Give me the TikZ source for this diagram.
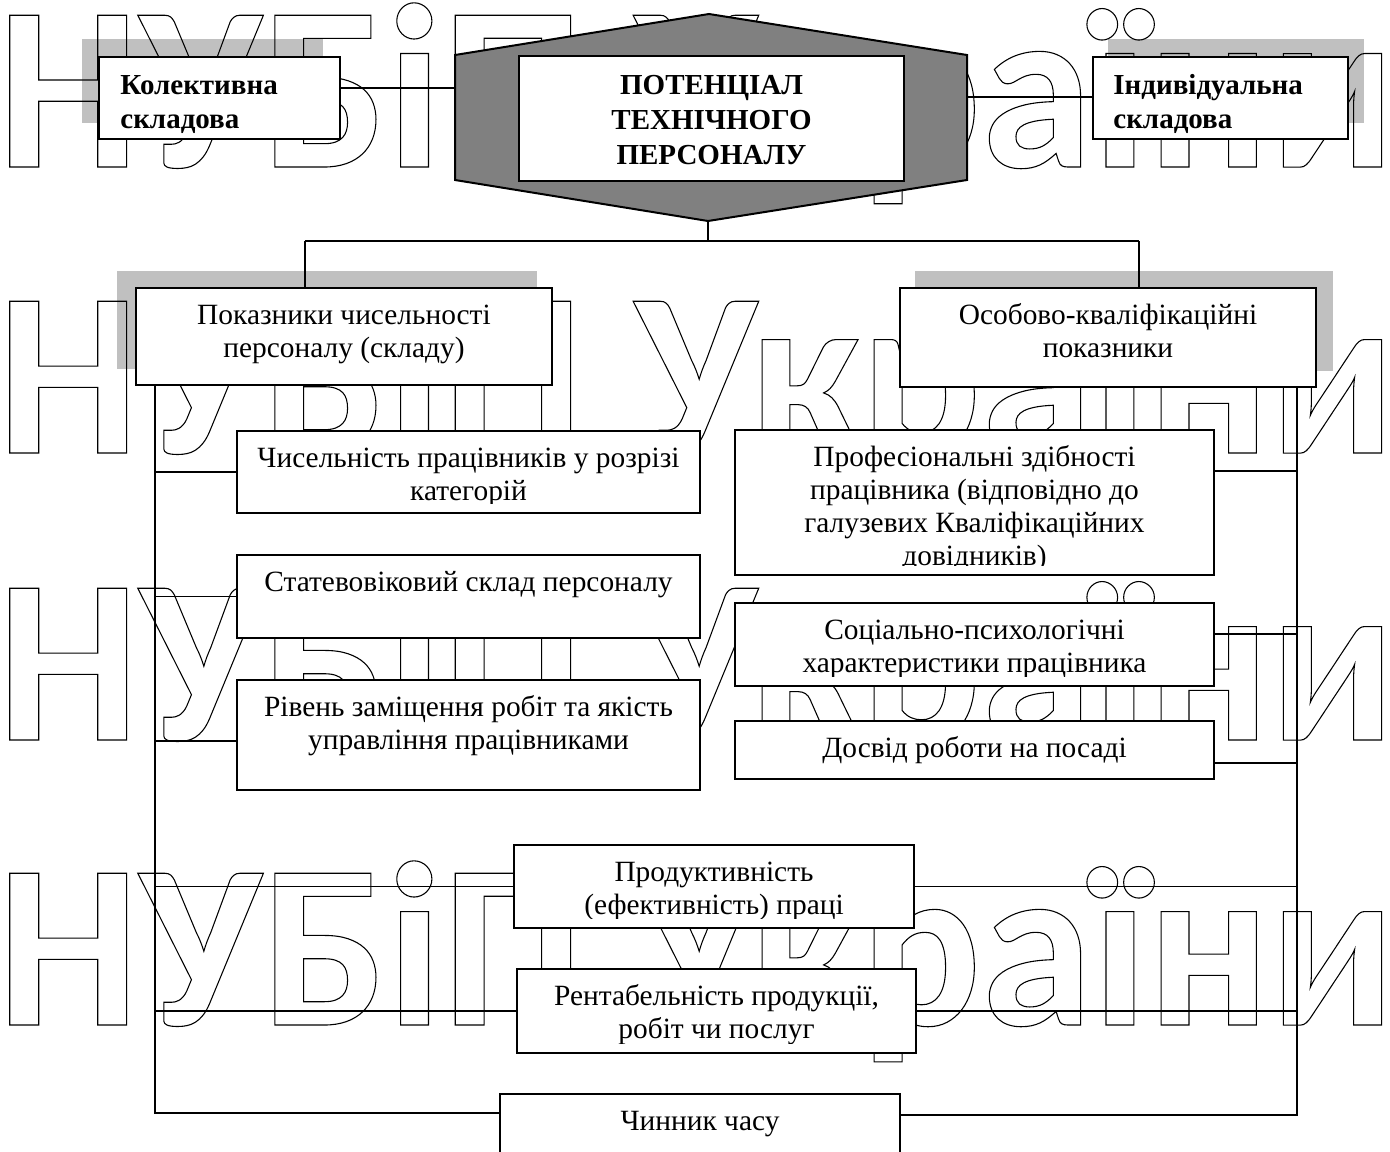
\documentclass[tikz,border=0pt]{standalone}
\usepackage{fontspec}
\setmainfont{Liberation Serif}
\newfontfamily\wmfont{Carlito}
\usetikzlibrary{positioning, calc}
\definecolor{shadowgray}{HTML}{C0C0C0}
\definecolor{hexgray}{HTML}{808080}
\newcommand\outlinetext[1]{\special{pdf:literal direct 1 Tr 0.55 w}#1\special{pdf:literal direct 0 Tr}}
\tikzset{
  box/.style={draw=black, line width=1pt, fill=white, inner sep=0pt, anchor=north west},
  shadowbox/.style={fill=shadowgray, draw=none, inner sep=0pt, anchor=north west},
  boxtext/.style={font=\fontsize{14.7}{16.5}\selectfont, align=center, inner sep=0pt, anchor=north},
  headtext/.style={font=\bfseries\fontsize{14.5}{17}\selectfont, align=left, inner sep=0pt, anchor=north west},
  titletext/.style={font=\bfseries\fontsize{14.5}{17.5}\selectfont, align=center, inner sep=0pt, anchor=north},
  link/.style={line width=0.8pt},
  wmark/.style={font=\wmfont\bfseries\fontsize{117}{117}\selectfont, inner sep=0pt, anchor=base west,
                xscale=0.96, transform shape},
}

\begin{document}
\begin{tikzpicture}[x=0.5pt, y=-0.5pt]
  \useasboundingbox (0,0) rectangle (1390,1151);
  \clip (0,0) rectangle (1390,1151);
  \fill[white] (0,0) rectangle (1390,1151);

  % shadows
  \node[shadowbox, minimum width=120.5pt, minimum height=42pt] (kolektS) at (82,39) {};
  \node[shadowbox, minimum width=128pt, minimum height=42pt] (indyvS) at (1108,39) {};
  \node[shadowbox, minimum width=210pt, minimum height=49pt] (pokazS) at (117,271) {};
  \node[shadowbox, minimum width=209pt, minimum height=50pt] (osobS) at (915,271) {};

  % watermark
  \foreach \by/\nm in {167/wmA, 453/wmB, 740/wmC, 1025/wmD}
    \node[wmark] (\nm) at (-3,\by) {\outlinetext{НУБіП України}};

  % connectors
  \coordinate (hexL) at (455,88);
  \coordinate (hexR) at (967,97);
  \coordinate (hexB) at (708,221);
  \coordinate (hub) at (708,241);
  \coordinate (hubL) at (305,241);
  \coordinate (hubR) at (1139,241);
  \coordinate (spL) at (155,1113);
  \coordinate (spR) at (1297,1115);

  % boxes
  \node[box, minimum width=120.5pt, minimum height=41pt] (kolekt) at (98,56) {};
  \node[box, minimum width=127.5pt, minimum height=41pt] (indyv) at (1092,56) {};
  \node[box, minimum width=208pt, minimum height=48.5pt] (pokaz) at (135,287) {};
  \node[box, minimum width=208pt, minimum height=49.5pt] (osob) at (899,287) {};
  \node[box, minimum width=231.5pt, minimum height=41pt] (chysel) at (236,430) {};
  \node[box, minimum width=231.5pt, minimum height=41.5pt] (stat) at (236,554) {};
  \node[box, minimum width=231.5pt, minimum height=55pt] (riven) at (236,679) {};
  \node[box, minimum width=239.5pt, minimum height=72.5pt] (prof) at (734,429) {};
  \node[box, minimum width=239.5pt, minimum height=41.5pt] (sots) at (734,602) {};
  \node[box, minimum width=239.5pt, minimum height=29pt] (dosvid) at (734,720) {};
  \node[box, minimum width=200pt, minimum height=41.5pt] (prod) at (513,844) {};
  \node[box, minimum width=199.5pt, minimum height=42pt] (rent) at (516,968) {};
  \node[box, minimum width=200pt, minimum height=42pt] (chas) at (499,1093) {};

  \draw[link] (kolekt.east |- hexL) -- (hexL);
  \draw[link] (hexR) -- (hexR -| indyv.west);
  \draw[link] (hexB) -- (hub);
  \draw[link] (hubL) -- (hubR);
  \draw[link] (hubL) -- (hubL |- pokaz.north);
  \draw[link] (hubR) -- (hubR |- osob.north);
  \draw[link] (pokaz.south -| spL) -- (spL) -- (spL -| chas.west);
  \draw[link] (osob.south -| spR) -- (spR) -- (spR -| chas.east);
  \draw[link] (chysel.west) -- (chysel.west -| spL);
  \draw[link] (stat.west) -- (stat.west -| spL);
  \draw[link] ([yshift=-3pt]riven.west) -- ([yshift=-3pt]riven.west -| spL);
  \draw[link] ([yshift=15.75pt]prof.east) -- ([yshift=15.75pt]prof.east -| spR);
  \draw[link] ([yshift=5.25pt]sots.east) -- ([yshift=5.25pt]sots.east -| spR);
  \draw[link] ([yshift=-6.5pt]dosvid.east) -- ([yshift=-6.5pt]dosvid.east -| spR);
  \draw[link] (prod.west) -- (prod.west -| spL);
  \draw[link] (prod.east) -- (prod.east -| spR);
  \draw[link] (rent.west) -- (rent.west -| spL);
  \draw[link] (rent.east) -- (rent.east -| spR);

  % central hexagon
  \draw[line width=1pt, fill=hexgray] (455,55) -- (709,14) -- (967,55) -- (967,180) -- (hexB) -- (455,180) -- cycle;
  \node[box, minimum width=192.5pt, minimum height=62.5pt] (title) at (518,55) {};

  % texts
  \node[headtext] (kolektT) at ([xshift=11pt, yshift=-7pt]kolekt.north west) {\strut Колективна\\складова};
  \node[headtext] (indyvT) at ([xshift=10.5pt, yshift=-7pt]indyv.north west) {\strut Індивідуальна\\складова};
  \begin{scope}
    \clip (title.north west) rectangle ([yshift=5.5pt]title.south east);
    \node[titletext] (titleT) at ([yshift=-7.25pt]title.north) {\strut ПОТЕНЦІАЛ\\ТЕХНІЧНОГО\\ПЕРСОНАЛУ};
  \end{scope}
  \node[boxtext] (pokazT) at ([yshift=-7pt]pokaz.north) {\strut Показники чисельності\\персоналу (складу)};
  \node[boxtext] (osobT) at ([yshift=-7pt]osob.north) {\strut Особово-кваліфікаційні\\показники};
  \begin{scope}
    \clip (chysel.north west) rectangle ([yshift=5.5pt]chysel.south east);
    \node[boxtext] (chyselT) at ([yshift=-7pt]chysel.north) {\strut Чисельність працівників у розрізі\\категорій};
  \end{scope}
  \node[boxtext] (statT) at ([yshift=-7pt]stat.north) {\strut Статевовіковий склад персоналу};
  \node[boxtext] (rivenT) at ([yshift=-7pt]riven.north) {\strut Рівень заміщення робіт та якість\\управління працівниками};
  \begin{scope}
    \clip (prof.north west) rectangle ([yshift=5.5pt]prof.south east);
    \node[boxtext] (profT) at ([yshift=-7pt]prof.north) {\strut Професіональні здібності\\працівника (відповідно до\\галузевих Кваліфікаційних\\довідників)};
  \end{scope}
  \begin{scope}
    \clip (sots.north west) rectangle ([yshift=5.5pt]sots.south east);
    \node[boxtext] (sotsT) at ([yshift=-7pt]sots.north) {\strut Соціально-психологічні\\характеристики працівника};
  \end{scope}
  \node[boxtext] (dosvidT) at ([yshift=-7pt]dosvid.north) {\strut Досвід роботи на посаді};
  \begin{scope}
    \clip (prod.north west) rectangle ([yshift=5.5pt]prod.south east);
    \node[boxtext] (prodT) at ([yshift=-7pt]prod.north) {\strut Продуктивність\\(ефективність) праці};
  \end{scope}
  \begin{scope}
    \clip (rent.north west) rectangle ([yshift=5.5pt]rent.south east);
    \node[boxtext] (rentT) at ([yshift=-7pt]rent.north) {\strut Рентабельність продукції,\\робіт чи послуг};
  \end{scope}
  \node[boxtext] (chasT) at ([yshift=-7pt]chas.north) {\strut Чинник часу};
\end{tikzpicture}
\end{document}
